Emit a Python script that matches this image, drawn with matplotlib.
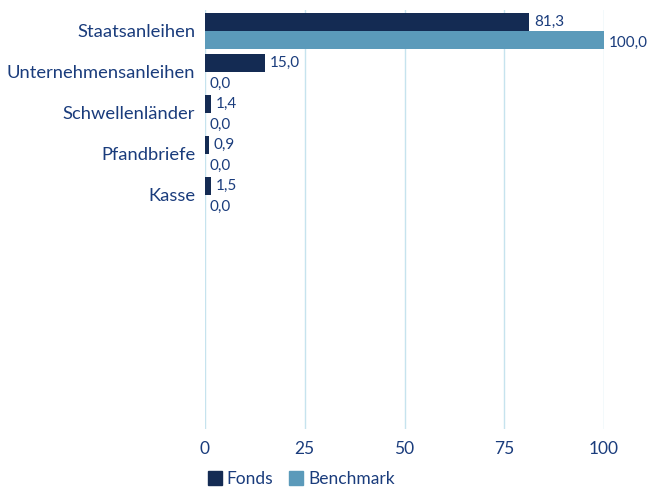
import matplotlib
matplotlib.use("Agg")
import matplotlib.pyplot as plt
from matplotlib.patches import Patch

categories = ["Staatsanleihen", "Unternehmensanleihen", "Schwellenländer", "Pfandbriefe", "Kasse"]
fonds = [81.3, 15.0, 1.4, 0.9, 1.5]
benchmark = [100.0, 0.0, 0.0, 0.0, 0.0]
xticks = [0, 25, 50, 75, 100]
series_names = ["Fonds", "Benchmark"]

c_fonds = "#142B53"
c_bench = "#5B9ABA"
c_text = "#1A3C7C"
c_grid = "#C6E3EE"

plt.rcParams['font.family'] = ['Lato', 'DejaVu Sans']

fig = plt.figure(figsize=(6.48, 4.90), dpi=100)
ax = fig.add_axes([205/648, 1-429/490, 399/648, 419/490])

h = 0.43
ys = list(range(len(categories)))
ax.barh([y - h/2 for y in ys], fonds, height=h, color=c_fonds, zorder=3)
ax.barh([y + h/2 for y in ys], benchmark, height=h, color=c_bench, zorder=3)

def fmt(v):
    return f"{v:.1f}".replace(".", ",")

for y, v in zip(ys, fonds):
    ax.annotate(fmt(v), (v, y - h/2), xytext=(3.5, 0), textcoords="offset points",
                va="center", ha="left", fontsize=11, color=c_text)
for y, v in zip(ys, benchmark):
    ax.annotate(fmt(v), (v, y + h/2), xytext=(3.5, -2), textcoords="offset points",
                va="center", ha="left", fontsize=11, color=c_text)

ax.set_xlim(0, 100)
ax.set_ylim(9.71, -0.51)
ax.set_xticks(xticks)
ax.set_xticklabels([str(t) for t in xticks])
ax.set_yticks(ys)
ax.set_yticklabels(categories, fontsize=13.2)
ax.tick_params(axis="both", length=0, labelcolor=c_text)
ax.tick_params(axis="x", labelsize=12.5, pad=8.5)
ax.tick_params(axis="y", pad=7)
ax.grid(axis="x", color=c_grid, linewidth=1, zorder=0)
for s in ax.spines.values():
    s.set_visible(False)

handles = [Patch(color=c_fonds), Patch(color=c_bench)]
fig.legend(handles, series_names, loc="center left", bbox_to_anchor=(199/648, 1-479/490),
           ncol=2, frameon=False, fontsize=12.5, labelcolor=c_text,
           handlelength=0.8, handleheight=0.8, handletextpad=0.3, columnspacing=0.9,
           borderpad=0.0)

fig.savefig("out.png", dpi=100)
